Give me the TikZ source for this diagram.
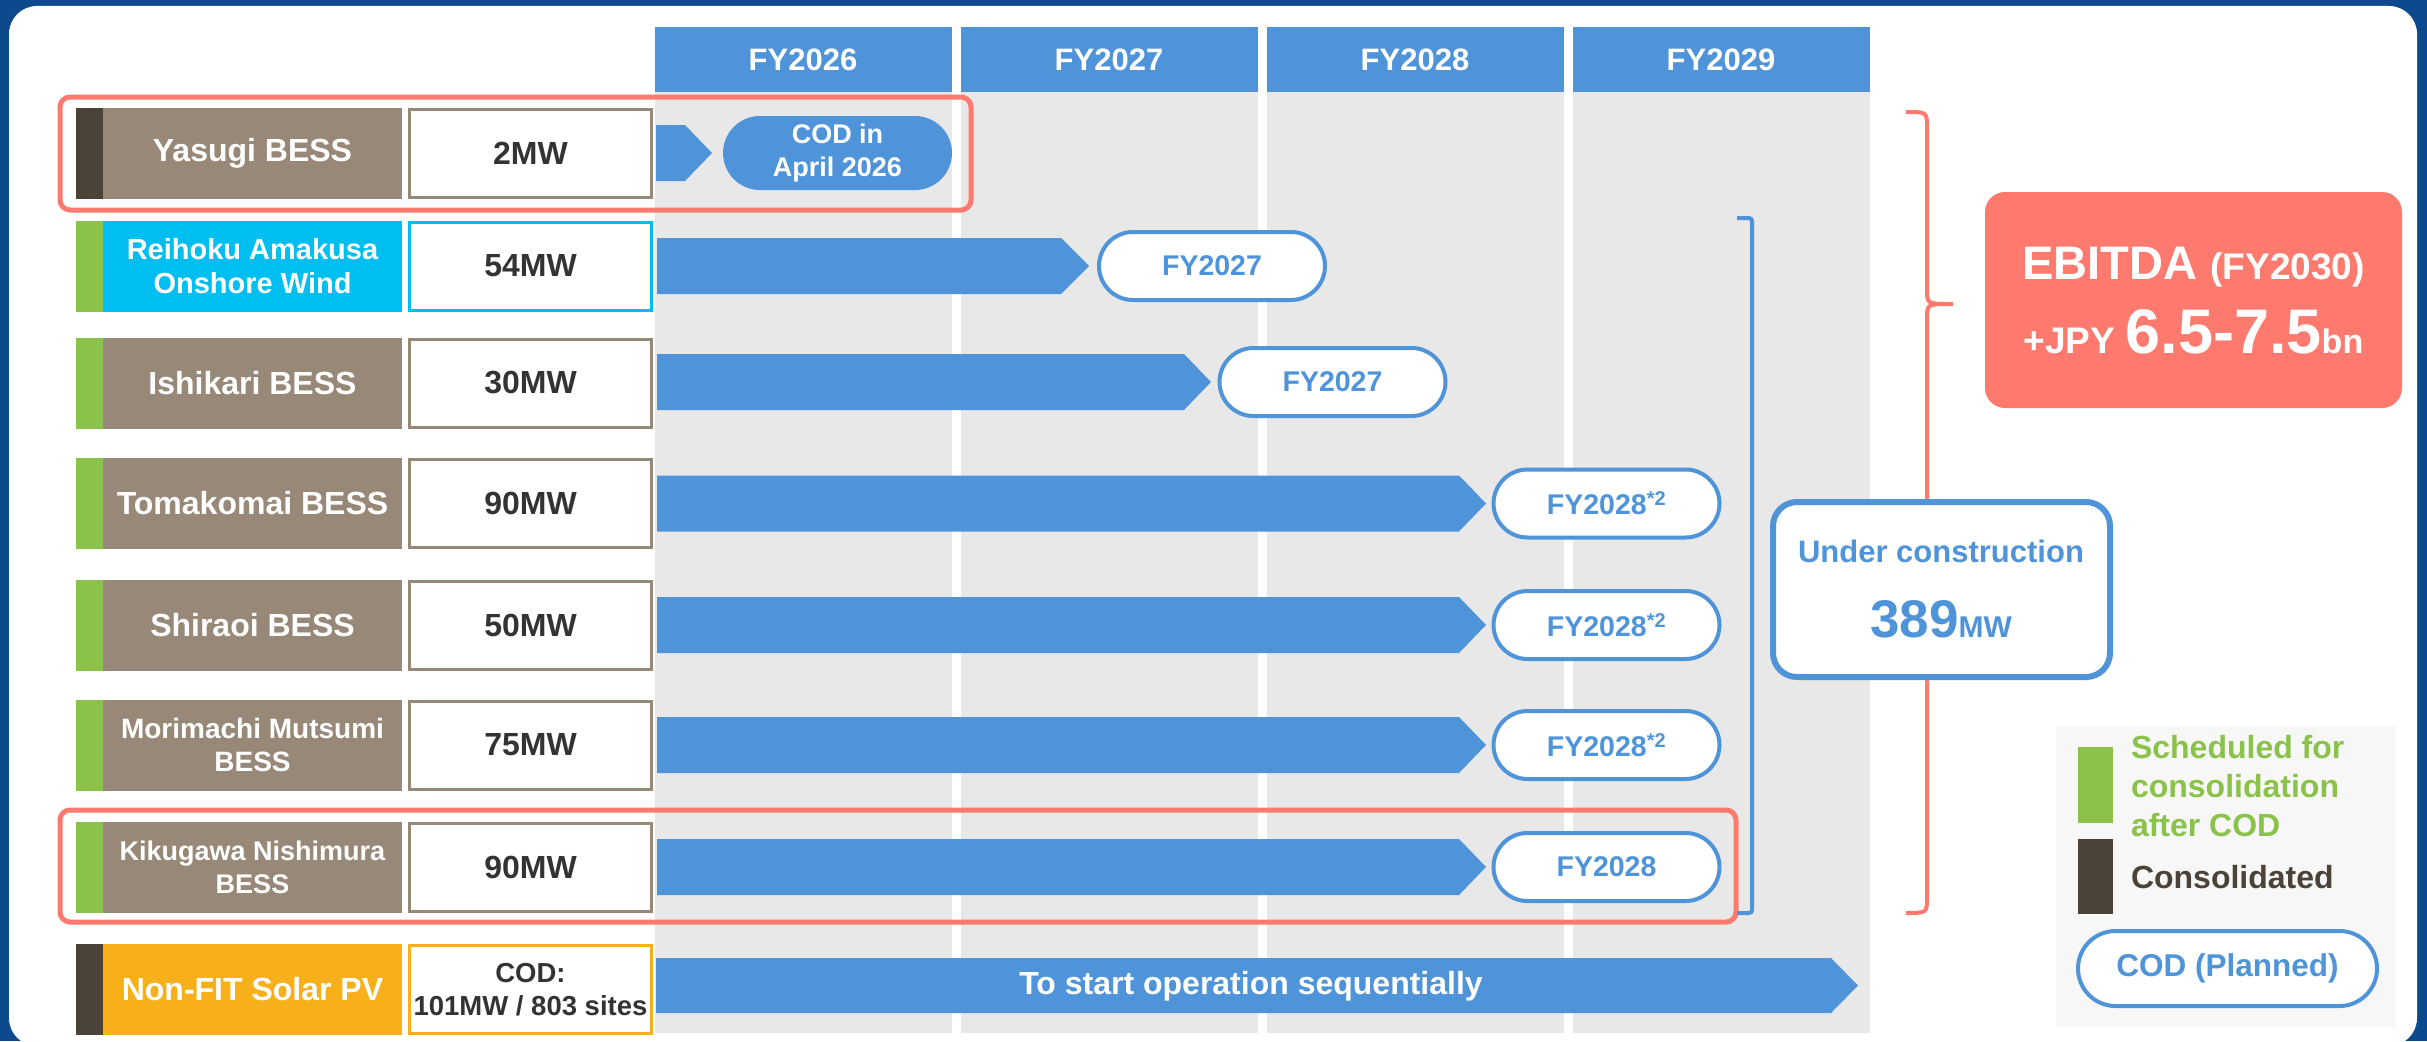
\documentclass[tikz,border=0pt]{standalone}
\usepackage{fontspec}
\setmainfont{Liberation Sans}
\usepackage{tikz}
\usetikzlibrary{positioning}
\usepackage{xcolor}
\definecolor{framec}{RGB}{12,74,141}
\definecolor{barc}{RGB}{79,148,216}
\definecolor{brownc}{RGB}{151,136,120}
\definecolor{cyanc}{RGB}{0,191,240}
\definecolor{orangec}{RGB}{248,176,26}
\definecolor{greenc}{RGB}{139,195,74}
\definecolor{darkc}{RGB}{75,66,56}
\definecolor{redc}{RGB}{255,122,110}
\definecolor{grayc}{RGB}{232,232,232}
\definecolor{legc}{RGB}{247,247,247}
\definecolor{textc}{RGB}{51,51,51}

\begin{document}
\begin{tikzpicture}[x=1pt, y=-1pt,
	every node/.style={inner sep=0pt, outer sep=0pt},
	yearbox/.style={fill=barc, text=white, minimum width=297pt, minimum height=65pt, font=\bfseries\fontsize{31}{36}\selectfont},
	namebox/.style={fill=brownc, text=white, minimum width=299pt, minimum height=91pt, align=center, font=\bfseries\fontsize{32}{36}\selectfont},
	mwbox/.style={draw=brownc, fill=white, line width=3pt, text=textc, minimum width=242pt, minimum height=88pt, align=center, font=\bfseries\fontsize{32}{36}\selectfont},
	bar/.style={fill=barc},
	codpill/.style={draw=barc, line width=4pt, fill=white, text=barc, minimum width=226pt, minimum height=68pt, rounded corners=34pt, font=\bfseries\fontsize{28.5}{32}\selectfont},
	codfill/.style={fill=barc, text=white, minimum width=229pt, minimum height=74pt, rounded corners=37pt, align=center, font=\bfseries\fontsize{27}{33}\selectfont},
	hilite/.style={draw=redc, line width=5pt, rounded corners=10pt},
	bigtext/.style={font=\bfseries\fontsize{31}{36}\selectfont}]
										\useasboundingbox (0,0) rectangle (2427,1041);
										\path[clip] (0,0) rectangle (2427,1041);
										\fill[framec] (0,0) rectangle (2427,1041);
										\fill[white, rounded corners=28pt] (9,6) rectangle (2417,1046);
										\node[yearbox] (fy26) at (803,59.5) {FY2026};
										\node[yearbox] (fy27) at (1109,59.5) {FY2027};
										\node[yearbox] (fy28) at (1415,59.5) {FY2028};
										\node[yearbox] (fy29) at (1721,59.5) {FY2029};
										\fill[grayc] (fy26.south west) rectangle (fy26.east |- 0,1033);
										\fill[grayc] (fy27.south west) rectangle (fy27.east |- 0,1033);
										\fill[grayc] (fy28.south west) rectangle (fy28.east |- 0,1033);
										\fill[grayc] (fy29.south west) rectangle (fy29.east |- 0,1033);
										\node[namebox] (yasugi) at (252.5,153.5) {Yasugi BESS};
										\fill[darkc] ([xshift=-27pt]yasugi.south west) rectangle (yasugi.north west);
										\node[mwbox, right=7.5pt of yasugi] (yasugiMW) {2MW};
										\fill[bar] (656,125) -- ++(29,0) -- ++(27,28) -- ++(-27,28) -- ++(-29,0) -- cycle;
										\node[codfill] (yasugiCOD) at (837.5,153) {COD in\\April 2026};
										\node[namebox, fill=cyanc, font=\bfseries\fontsize{29}{34}\selectfont] (reihoku) at (252.5,266) {Reihoku Amakusa\\Onshore Wind};
										\fill[greenc] ([xshift=-27pt]reihoku.south west) rectangle (reihoku.north west);
										\node[mwbox, draw=cyanc, right=7.5pt of reihoku] (reihokuMW) {54MW};
										\fill[bar] (657,238) -- ++(404,0) -- ++(28,28) -- ++(-28,28) -- ++(-404,0) -- cycle;
										\node[codpill] (reihokuCOD) at (1212,266) {FY2027};
										\node[namebox] (ishikari) at (252.5,383) {Ishikari BESS};
										\fill[greenc] ([xshift=-27pt]ishikari.south west) rectangle (ishikari.north west);
										\node[mwbox, right=7.5pt of ishikari] (ishikariMW) {30MW};
										\fill[bar] (657,354) -- ++(527,0) -- ++(27,28) -- ++(-27,28) -- ++(-527,0) -- cycle;
										\node[codpill] (ishikariCOD) at (1332.5,382) {FY2027};
										\node[namebox] (tomakomai) at (252.5,503.5) {Tomakomai BESS};
										\fill[greenc] ([xshift=-27pt]tomakomai.south west) rectangle (tomakomai.north west);
										\node[mwbox, right=7.5pt of tomakomai] (tomakomaiMW) {90MW};
										\fill[bar] (657,475.5) -- ++(802,0) -- ++(27,28) -- ++(-27,28) -- ++(-802,0) -- cycle;
										\node[codpill] (tomakomaiCOD) at (1606.5,503.5) {FY2028\textsuperscript{*2}};
										\node[namebox] (shiraoi) at (252.5,625) {Shiraoi BESS};
										\fill[greenc] ([xshift=-27pt]shiraoi.south west) rectangle (shiraoi.north west);
										\node[mwbox, right=7.5pt of shiraoi] (shiraoiMW) {50MW};
										\fill[bar] (657,597) -- ++(802,0) -- ++(27,28) -- ++(-27,28) -- ++(-802,0) -- cycle;
										\node[codpill] (shiraoiCOD) at (1606.5,625) {FY2028\textsuperscript{*2}};
										\node[namebox, font=\bfseries\fontsize{28}{33}\selectfont] (morimachi) at (252.5,745) {Morimachi Mutsumi\\BESS};
										\fill[greenc] ([xshift=-27pt]morimachi.south west) rectangle (morimachi.north west);
										\node[mwbox, right=7.5pt of morimachi] (morimachiMW) {75MW};
										\fill[bar] (657,717) -- ++(802,0) -- ++(27,28) -- ++(-27,28) -- ++(-802,0) -- cycle;
										\node[codpill] (morimachiCOD) at (1606.5,745) {FY2028\textsuperscript{*2}};
										\node[namebox, font=\bfseries\fontsize{27}{33}\selectfont] (kikugawa) at (252.5,867) {Kikugawa Nishimura\\BESS};
										\fill[greenc] ([xshift=-27pt]kikugawa.south west) rectangle (kikugawa.north west);
										\node[mwbox, right=7.5pt of kikugawa] (kikugawaMW) {90MW};
										\fill[bar] (657,839) -- ++(802,0) -- ++(27,28) -- ++(-27,28) -- ++(-802,0) -- cycle;
										\node[codpill] (kikugawaCOD) at (1606.5,867) {FY2028};
										\node[namebox, fill=orangec] (solar) at (252.5,989.5) {Non-FIT Solar PV};
										\fill[darkc] ([xshift=-27pt]solar.south west) rectangle (solar.north west);
										\node[mwbox, draw=orangec, right=7.5pt of solar, font=\bfseries\fontsize{27.5}{33}\selectfont] (solarMW) {COD:\\101MW / 803 sites};
										\fill[bar] (656,958) -- ++(1175,0) -- ++(27,27.5) -- ++(-27,27.5) -- ++(-1175,0) -- cycle;
										\node[bigtext, text=white, font=\bfseries\fontsize{32}{36}\selectfont] (solarText) at (1251,986) {To start operation sequentially};
										\draw[hilite] (60,97) rectangle (971,210);
										\draw[hilite] (60,810) rectangle (1736,922);
										\draw[barc, line width=4pt, rounded corners=3pt] (1737,218) -- (1752,218) -- (1752,913) -- (1737,913);
										\draw[redc, line width=4pt] (1906,112) .. controls (1927,112) .. (1927,128) -- (1927,290) .. controls (1927,304) .. (1953,304) .. controls (1927,304) .. (1927,318) -- (1927,897) .. controls (1927,913) .. (1906,913);
										\node[draw=barc, fill=white, line width=6pt, rounded corners=24pt, minimum width=337pt, minimum height=175pt] (ucBox) at (1941.5,589.5) {};
										\node[bigtext, text=barc, anchor=base] (ucLabel) at (1941,562) {Under construction};
										\node[bigtext, text=barc, anchor=base] (ucValue) at (1941,637) {{\fontsize{53}{53}\selectfont 389}{\fontsize{30}{30}\selectfont MW}};
										\node[fill=redc, rounded corners=20pt, minimum width=417pt, minimum height=216pt] (ebitdaBox) at (2193.5,300) {};
										\node[text=white, anchor=base, font=\bfseries\fontsize{47}{50}\selectfont] (ebitdaLabel) at (2193.5,279) {EBITDA {\fontsize{37}{40}\selectfont (FY2030)}};
										\node[text=white, anchor=base, font=\bfseries\fontsize{37}{40}\selectfont] (ebitdaValue) at (2193.5,353) {+JPY {\fontsize{63}{66}\selectfont 6.5-7.5}{\fontsize{34}{36}\selectfont bn}};
										\fill[legc] (2056,726) rectangle (2396,1027);
										\fill[greenc] (2078,747) rectangle (2113,823);
										\fill[darkc] (2078,839) rectangle (2113,914);
										\node[anchor=west, align=left, text=greenc, font=\bfseries\fontsize{32}{39}\selectfont] (legGreen) at (2131,786) {Scheduled for\\consolidation\\after COD};
										\node[anchor=base west, text=darkc, font=\bfseries\fontsize{32}{39}\selectfont] (legDark) at (2131,888) {Consolidated};
										\node[codpill, minimum width=299pt, minimum height=75pt, rounded corners=37.5pt, font=\bfseries\fontsize{31.5}{36}\selectfont] (legCOD) at (2227.5,968.5) {COD (Planned)};
									\end{tikzpicture}
\end{document}
